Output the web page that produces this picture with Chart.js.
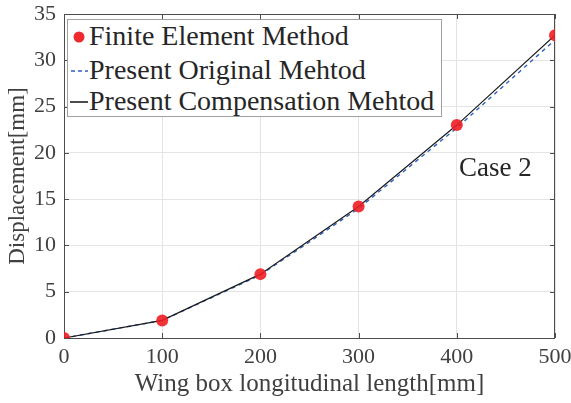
<!DOCTYPE html>
<html>
<head>
<meta charset="utf-8">
<script src="https://cdn.jsdelivr.net/npm/chart.js@4"></script>
<style>
  html, body { margin: 0; padding: 0; background: #fff; }
  #wrap { position: relative; width: 571px; height: 403px; }
  #legend {
    position: absolute; left: 67px; top: 19px; width: 375px; height: 98px;
    border: 1px solid #a0a0a0; background: #fff; box-sizing: border-box;
    font-family: "Liberation Serif", serif; font-size: 28px; color: #262626;
  }
  .row { position: absolute; left: 0; height: 30px; line-height: 30px; white-space: nowrap; }
  .row span { position: absolute; left: 21px; }
  .mark { position: absolute; left: 2px; top: 10px; width: 18px; height: 12px; }
  #case {
    position: absolute; left: 459px; top: 152px;
    font-family: "Liberation Serif", serif; font-size: 27px; color: #262626;
  }
</style>
</head>
<body>
<div id="wrap">
  <canvas id="chart" width="571" height="403"></canvas>
  <div id="legend">
    <div class="row" style="top:1px"><svg class="mark" viewBox="0 0 18 12"><circle cx="9" cy="6" r="5.5" fill="#ee2a2f"/></svg><span>Finite Element Method</span></div>
    <div class="row" style="top:35px"><svg class="mark" viewBox="0 0 18 12"><line x1="1" y1="6" x2="18" y2="6" stroke="#2f5fc4" stroke-width="1.5" stroke-dasharray="4,3"/></svg><span>Present Original Mehtod</span></div>
    <div class="row" style="top:66px"><svg class="mark" viewBox="0 0 18 12"><line x1="0" y1="6" x2="18" y2="6" stroke="#111" stroke-width="1.5"/></svg><span>Present Compensation Mehtod</span></div>
  </div>
  <div id="case">Case 2</div>
</div>
<script>
// wing box length stations and displacements (mm)
const lengths = [0, 100, 200, 300, 400, 500];
const femDisp = [0, 1.9, 6.9, 14.2, 23.0, 32.7];
const originalDisp = [0, 1.9, 6.8, 14.0, 22.7, 32.2];
const compensationDisp = [0, 1.9, 6.9, 14.2, 23.0, 32.7];
const xTicks = [0, 100, 200, 300, 400, 500];
const yTicks = [0, 5, 10, 15, 20, 25, 30, 35];

const serif = "Liberation Serif";
const axisColor = "#4d4d4d";
const toPoints = (vals) => lengths.map((x, i) => ({ x: x, y: vals[i] }));

// box around the plot area plus inward tick marks on all four sides
const boxPlugin = {
  id: "box",
  beforeDatasetsDraw(chart) {
    const { ctx, chartArea: a, scales } = chart;
    ctx.save();
    ctx.strokeStyle = axisColor;
    ctx.lineWidth = 1;
    ctx.strokeRect(a.left + 0.5, a.top + 0.5, a.right - a.left - 1, a.bottom - a.top);
    ctx.beginPath();
    xTicks.forEach((v) => {
      const px = Math.round(scales.x.getPixelForValue(v)) + 0.5;
      ctx.moveTo(px, a.bottom); ctx.lineTo(px, a.bottom - 5);
      ctx.moveTo(px, a.top); ctx.lineTo(px, a.top + 5);
    });
    yTicks.forEach((v) => {
      const py = Math.round(scales.y.getPixelForValue(v)) + 0.5;
      ctx.moveTo(a.left, py); ctx.lineTo(a.left + 5, py);
      ctx.moveTo(a.right, py); ctx.lineTo(a.right - 5, py);
    });
    ctx.stroke();
    ctx.restore();
  },
};

// fixed axis sizes; tick labels may hang past the plot edges
function fitX(s) {
  s.height = 65;
  s.paddingLeft = 0;
  s.paddingRight = 0;
}
function fitY(s) {
  s.width = 64;
  s.paddingTop = 0;
  s.paddingBottom = 0;
}

new Chart(document.getElementById("chart"), {
  type: "line",
  data: {
    datasets: [
      {
        label: "Present Original Mehtod",
        data: toPoints(originalDisp),
        borderColor: "#2f5fc4",
        borderWidth: 1.4,
        borderDash: [4, 4],
        pointRadius: 0,
        order: 3,
      },
      {
        label: "Present Compensation Mehtod",
        data: toPoints(compensationDisp),
        borderColor: "#1a1a1a",
        borderWidth: 1.2,
        pointRadius: 0,
        order: 2,
      },
      {
        label: "Finite Element Method",
        data: toPoints(femDisp),
        showLine: false,
        pointRadius: 6,
        pointBackgroundColor: "rgba(238, 30, 36, 0.9)",
        pointBorderWidth: 0,
        order: 1,
      },
    ],
  },
  options: {
    responsive: false,
    animation: false,
    layout: { padding: { top: 14, right: 16, left: 0, bottom: 0 } },
    plugins: { legend: { display: false }, tooltip: { enabled: false } },
    scales: {
      x: {
        type: "linear",
        min: 0,
        max: 500,
        afterBuildTicks: (s) => { s.ticks = xTicks.map((v) => ({ value: v })); },
        afterFit: fitX,
        grid: { color: "#e4e4e4", drawTicks: false },
        border: { display: false },
        ticks: { padding: 6, color: "#404040", font: { family: serif, size: 22 } },
        title: {
          display: true,
          text: "Wing box longitudinal length[mm]",
          color: "#404040",
          padding: { top: 0 },
          font: { family: serif, size: 25 },
        },
      },
      y: {
        min: 0,
        max: 35,
        afterBuildTicks: (s) => { s.ticks = yTicks.map((v) => ({ value: v })); },
        afterFit: fitY,
        grid: { color: "#e4e4e4", drawTicks: false },
        border: { display: false },
        ticks: { padding: 8, color: "#404040", font: { family: serif, size: 22 } },
        title: {
          display: true,
          text: "Displacement[mm]",
          color: "#404040",
          padding: { bottom: 0 },
          font: { family: serif, size: 23 },
        },
      },
    },
  },
  plugins: [boxPlugin],
});
</script>
</body>
</html>
